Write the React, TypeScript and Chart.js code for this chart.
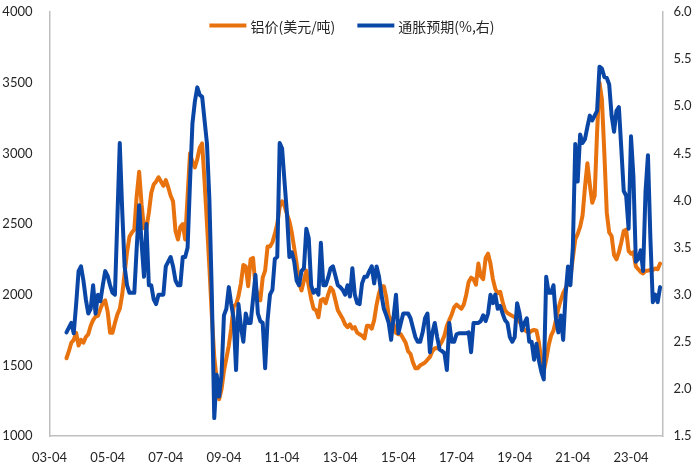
import React, { useEffect, useRef } from "react";
import { Chart, registerables } from "chart.js";

Chart.register(...registerables);

// x axis: months counted from 2003-04 (index 0)
const FIRST_MONTH = 7; // first observation: 2003-11
const X_MAX = 253;
const X_TICK_POSITIONS = [0, 24, 48, 72, 96, 120, 144, 168, 192, 216, 240];
const X_TICK_LABELS = ["03-04", "05-04", "07-04", "09-04", "11-04", "13-04", "15-04", "17-04", "19-04", "21-04", "23-04"];

const SERIES_NAMES = ["铝价(美元/吨)", "通胀预期(%,右)"];

// 铝价 (USD/t), monthly from 2003-11
const aluminumPrice = [
  1550, 1600, 1660, 1680, 1730, 1640, 1680, 1660, 1700, 1720,
  1780, 1820, 1845, 1850, 1900, 1940, 1960, 1880, 1730, 1730,
  1800, 1860, 1900, 2000, 2150, 2300, 2410, 2440, 2460, 2700,
  2870, 2640, 2470, 2470, 2580, 2720, 2780, 2800, 2830, 2800,
  2770, 2810, 2760, 2700, 2660, 2450, 2390, 2480, 2500, 2390,
  2700, 3000, 2940, 2900, 2960, 3040, 3070, 2800, 2500, 2190,
  1850, 1560, 1400, 1260, 1330, 1460, 1550, 1640, 1760, 1920,
  1930, 1990, 2080, 2210, 2200, 2060, 2250, 2260, 2060, 1990,
  1960, 2120, 2170, 2340, 2340, 2370, 2430, 2500, 2620, 2660,
  2630, 2570, 2520, 2440, 2330, 2220, 2090, 2030, 2100, 2170,
  2060, 1970, 1900, 1890, 1840, 1960, 1970, 1940, 2000, 2050,
  2030, 1960, 1890, 1860, 1830, 1790, 1770, 1790, 1760, 1770,
  1730, 1720, 1710, 1690, 1780, 1780, 1760, 1820, 1930, 2010,
  2060, 2060, 1980, 1850, 1820, 1790, 1730, 1720, 1720, 1690,
  1660, 1600, 1580, 1520, 1480, 1480, 1500, 1510, 1520, 1540,
  1560, 1600, 1620, 1620, 1640, 1670, 1710, 1780, 1820, 1860,
  1910, 1930, 1915, 1900, 1930, 2000, 2090, 2120, 2110, 2070,
  2220, 2130, 2110, 2260, 2290, 2220, 2110, 2040, 2010, 2020,
  1950, 1890, 1870, 1860, 1850, 1840, 1825, 1810, 1775, 1750,
  1740, 1730, 1745, 1750, 1745, 1660, 1530, 1460, 1540, 1640,
  1710, 1745, 1820, 1900, 1960, 2010, 2045, 2080, 2125, 2260,
  2390, 2430, 2480, 2560, 2760, 2930, 2780, 2650, 2700, 3150,
  3500, 3380, 3000, 2580, 2440, 2415, 2280, 2250, 2300, 2370,
  2450, 2460, 2310, 2290, 2300, 2200, 2180, 2160, 2150, 2170,
  2170, 2175, 2175, 2185, 2180, 2220,
];

// 通胀预期 (%), monthly from 2003-11, right axis
const inflationExpectation = [
  2.60, 2.65, 2.70, 2.59, 2.90, 3.25, 3.30, 3.15, 2.95, 2.80,
  2.85, 3.10, 2.80, 3.00, 2.93, 3.10, 3.25, 3.20, 3.10, 3.02,
  3.00, 3.80, 4.61, 3.90, 3.30, 3.10, 3.02, 3.02, 3.02, 3.50,
  3.95, 3.55, 3.19, 3.75, 3.10, 3.10, 2.95, 2.90, 3.00, 3.00,
  3.00, 3.30, 3.35, 3.40, 3.30, 3.15, 3.10, 3.10, 3.40, 3.40,
  3.50, 4.20, 4.82, 5.05, 5.20, 5.12, 5.10, 4.85, 4.60, 4.00,
  3.00, 1.69, 2.15, 1.92, 2.15, 2.78, 2.85, 3.08, 2.90, 2.75,
  2.20, 2.90, 2.66, 2.50, 2.80, 2.70, 2.70, 2.95, 3.21, 2.80,
  2.72, 2.70, 2.22, 2.73, 3.00, 3.05, 3.38, 3.40, 4.61, 4.55,
  4.20, 3.86, 3.40, 3.45, 3.35, 3.15, 3.10, 3.25, 3.28, 3.70,
  3.60, 3.10, 3.02, 3.05, 3.00, 3.55, 3.10, 3.10, 3.18, 3.28,
  3.30, 3.20, 3.10, 3.08, 3.05, 3.00, 3.10, 2.98, 3.28, 3.00,
  2.91, 2.90, 3.12, 3.19, 3.19, 3.25, 3.30, 3.12, 3.30, 3.19,
  3.00, 2.85, 2.78, 2.70, 2.52, 2.76, 3.00, 2.59, 2.70, 2.80,
  2.80, 2.80, 2.75, 2.65, 2.55, 2.50, 2.50, 2.60, 2.75, 2.80,
  2.39, 2.59, 2.70, 2.55, 2.42, 2.40, 2.38, 2.20, 2.70, 2.50,
  2.50, 2.58, 2.59, 2.59, 2.59, 2.59, 2.60, 2.39, 2.70, 2.70,
  2.70, 2.72, 2.78, 2.72, 2.80, 3.00, 2.91, 3.00, 2.85, 2.88,
  2.80, 2.73, 2.70, 2.55, 2.50, 2.55, 2.91, 2.80, 2.62, 2.70,
  2.75, 2.50, 2.50, 2.31, 2.48, 2.30, 2.18, 2.10, 3.19, 3.02,
  3.02, 3.10, 2.75, 2.60, 2.78, 2.52, 3.00, 3.30, 3.10, 3.50,
  4.60, 4.20, 4.70, 4.61, 4.65, 4.78, 4.90, 4.85, 4.90, 4.95,
  5.42, 5.40, 5.31, 5.30, 5.23, 4.90, 4.73, 4.95, 4.99, 4.55,
  4.10, 4.05, 3.70, 4.68, 4.25, 3.35, 3.38, 3.47, 3.25, 4.10,
  4.48, 3.60, 2.92, 3.00, 2.92, 3.08,
];

const ORANGE = "#E8720E";
const BLUE = "#0A46A6";
const AXIS_GRAY = "#BFBFBF";
const TEXT = "#262626";
const TICK_FONT = { family: "Lato, 'Noto Sans', sans-serif", size: 13 };

export default function App() {
  const canvasRef = useRef<HTMLCanvasElement | null>(null);

  useEffect(() => {
    document.body.style.margin = "0";
    const canvas = canvasRef.current;
    if (!canvas) return;

    const toPoints = (arr: number[]) => arr.map((y, i) => ({ x: FIRST_MONTH + i, y }));

    const insideLegend = {
      id: "insideLegend",
      afterDatasetsDraw(chart: any) {
        const ctx = chart.ctx as CanvasRenderingContext2D;
        const area = chart.chartArea;
        const lineLen = 37;
        const lineGap = 4;
        const itemGap = 22;
        ctx.save();
        ctx.font = "14px 'Noto Sans CJK SC', sans-serif";
        const items = chart.data.datasets.map((ds: any) => ({
          text: ds.label as string,
          color: ds.borderColor as string,
          w: ctx.measureText(ds.label).width,
        }));
        const total = items.reduce((s: number, it: any) => s + lineLen + lineGap + it.w, 0) + itemGap * (items.length - 1);
        let x = (area.left + area.right) / 2 - total / 2 - 4;
        const y = 25.5;
        ctx.textBaseline = "middle";
        ctx.textAlign = "left";
        for (const it of items) {
          ctx.strokeStyle = it.color;
          ctx.lineWidth = 4;
          ctx.lineCap = "butt";
          ctx.beginPath();
          ctx.moveTo(x, y);
          ctx.lineTo(x + lineLen, y);
          ctx.stroke();
          ctx.fillStyle = TEXT;
          ctx.fillText(it.text, x + lineLen + lineGap, y + 1);
          x += lineLen + lineGap + it.w + itemGap;
        }
        ctx.restore();
      },
    };

    const fitVertical = (width: number) => (scale: any) => {
      scale.width = width;
      scale.paddingTop = 0;
      scale.paddingBottom = 0;
    };

    const chart = new Chart(canvas, {
      type: "line",
      data: {
        datasets: [
          {
            label: SERIES_NAMES[0],
            data: toPoints(aluminumPrice),
            yAxisID: "y",
            borderColor: ORANGE,
            backgroundColor: ORANGE,
            borderWidth: 4,
            pointRadius: 0,
            tension: 0,
            borderJoinStyle: "round",
            borderCapStyle: "round",
            order: 2,
          },
          {
            label: SERIES_NAMES[1],
            data: toPoints(inflationExpectation),
            yAxisID: "y1",
            borderColor: BLUE,
            backgroundColor: BLUE,
            borderWidth: 4,
            pointRadius: 0,
            tension: 0,
            borderJoinStyle: "round",
            borderCapStyle: "round",
            order: 1,
          },
        ],
      },
      options: {
        responsive: false,
        animation: false,
        devicePixelRatio: 1,
        layout: { autoPadding: false, padding: { top: 12, left: 0, right: 0, bottom: 0 } },
        plugins: {
          legend: { display: false },
          tooltip: { enabled: false },
        },
        scales: {
          x: {
            type: "linear",
            min: 0,
            max: X_MAX,
            afterBuildTicks: (scale: any) => {
              scale.ticks = X_TICK_POSITIONS.map((v) => ({ value: v }));
            },
            afterFit: (scale: any) => {
              scale.height = 31;
              scale.paddingLeft = 0;
              scale.paddingRight = 0;
            },
            ticks: {
              autoSkip: false,
              maxRotation: 0,
              padding: 14,
              color: TEXT,
              font: TICK_FONT,
              callback: (value: any) => {
                const i = X_TICK_POSITIONS.indexOf(Number(value));
                return i >= 0 ? X_TICK_LABELS[i] : "";
              },
            },
            grid: { display: false, drawTicks: false },
            border: { display: true, color: AXIS_GRAY, width: 1.5 },
          },
          y: {
            position: "left",
            min: 1000,
            max: 4000,
            afterFit: fitVertical(49.5),
            ticks: {
              stepSize: 500,
              padding: 17,
              color: TEXT,
              font: TICK_FONT,
              callback: (v: any) => String(v),
            },
            grid: { display: false, drawTicks: false },
            border: { display: true, color: AXIS_GRAY, width: 1.5 },
          },
          y1: {
            position: "right",
            min: 1.5,
            max: 6,
            afterFit: fitVertical(37.5),
            ticks: {
              stepSize: 0.5,
              padding: 11,
              color: TEXT,
              font: TICK_FONT,
              callback: (v: any) => Number(v).toFixed(1),
            },
            grid: { display: false, drawTicks: false },
            border: { display: true, color: AXIS_GRAY, width: 1.5 },
          },
        },
      },
      plugins: [insideLegend],
    } as any);

    return () => {
      chart.destroy();
    };
  }, []);

  return (
    <div style={{ width: 700, height: 467, background: "#ffffff" }}>
      <canvas ref={canvasRef} width={700} height={467} style={{ display: "block" }} />
    </div>
  );
}
